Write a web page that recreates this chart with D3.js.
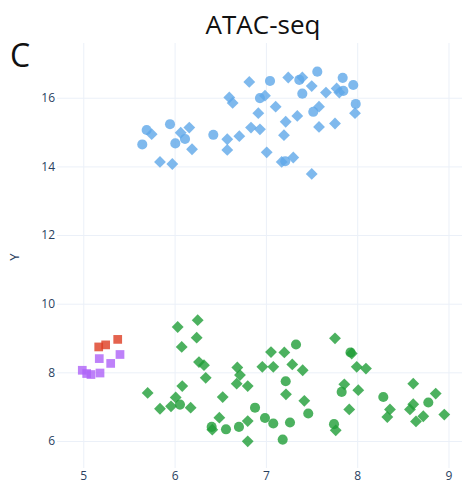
<!DOCTYPE html>
<html>
<head>
<meta charset="utf-8">
<script src="https://cdn.jsdelivr.net/npm/d3@7"></script>
<style>
  html, body { margin: 0; padding: 0; background: #fff; }
  svg { display: block; }
</style>
</head>
<body>
<svg id="chart" width="465" height="488"></svg>
<script>
// Tick values for both axes
const xTicks = [5, 6, 7, 8, 9];
const yTicks = [6, 8, 10, 12, 14, 16];

// Cluster 1 (blue): circles and diamonds
const blueCircles = [
  [5.646, 14.64], [5.694, 15.06], [5.950, 15.23], [6.008, 14.67], [6.114, 14.80],
  [6.424, 14.92], [7.045, 16.49], [6.935, 15.99], [7.366, 16.52], [7.563, 16.76],
  [7.399, 16.12], [7.841, 16.58], [7.957, 16.37], [7.848, 16.20], [7.984, 15.82],
  [7.519, 15.59], [7.212, 14.15]
];
const blueDiamonds = [
  [5.749, 14.94], [5.840, 14.13], [5.975, 14.07], [6.067, 14.98], [6.161, 15.13],
  [6.191, 14.50], [6.599, 16.01], [6.636, 15.85], [6.818, 16.46], [6.577, 14.79],
  [6.577, 14.48], [6.709, 14.88], [6.837, 15.13], [6.935, 15.08], [6.917, 15.55],
  [6.990, 16.06], [7.107, 15.74], [7.217, 15.30], [7.198, 14.91], [7.009, 14.41],
  [7.300, 14.26], [7.173, 14.13], [7.245, 16.59], [7.399, 16.59], [7.502, 16.34],
  [7.344, 15.47], [7.582, 15.74], [7.582, 15.15], [7.658, 16.15], [7.757, 15.25],
  [7.775, 16.27], [7.804, 16.15], [7.502, 13.78], [7.976, 15.55]
];

// Cluster 2 (green): circles and diamonds
const greenCircles = [
  [6.059, 7.06], [6.406, 6.41], [6.563, 6.34], [6.705, 6.41], [6.881, 6.97],
  [6.990, 6.67], [7.081, 6.51], [7.330, 8.81], [7.217, 7.74], [7.464, 6.80],
  [7.264, 6.54], [7.184, 6.04], [7.830, 7.43], [7.746, 6.49], [8.286, 7.28],
  [8.779, 7.12], [7.927, 8.58]
];
const greenDiamonds = [
  [6.034, 9.32], [6.253, 9.52], [6.242, 9.01], [6.078, 8.74], [6.267, 8.30],
  [6.322, 8.21], [6.341, 7.84], [6.084, 7.60], [5.705, 7.40], [6.012, 7.27],
  [5.840, 6.94], [5.961, 7.01], [6.176, 6.97], [6.527, 7.28], [6.490, 6.68],
  [6.413, 6.33], [7.056, 8.59], [7.202, 8.58], [6.687, 8.14], [6.716, 7.92],
  [6.680, 7.67], [6.801, 7.60], [6.961, 8.16], [7.081, 8.16], [7.289, 8.23],
  [7.403, 8.06], [7.220, 7.36], [7.421, 7.17], [6.801, 6.58], [6.801, 5.99],
  [7.757, 8.99], [7.940, 8.55], [7.995, 8.16], [8.096, 8.11], [7.859, 7.65],
  [8.012, 7.48], [7.913, 6.92], [7.765, 6.31], [8.359, 6.92], [8.330, 6.70],
  [8.614, 7.67], [8.614, 7.07], [8.578, 6.92], [8.860, 7.38], [8.724, 6.72],
  [8.644, 6.57], [8.954, 6.77]
];

// Small groups (squares)
const redSquares = [[5.169, 8.74], [5.245, 8.80], [5.377, 8.96]];
const purpleSquares = [
  [4.989, 8.06], [5.037, 7.965], [5.084, 7.936], [5.175, 8.40],
  [5.183, 7.98], [5.300, 8.26], [5.402, 8.52]
];

const W = 465, H = 488;
const plot = { left: 57, right: 462, top: 43, bottom: 468 };

const svg = d3.select("#chart");

const x = d3.scaleLinear().domain([4.712, 9.148]).range([plot.left, plot.right]);
const y = d3.scaleLinear().domain([5.213, 17.595]).range([plot.bottom, plot.top]);

const fontFam = '"Open Sans", verdana, arial, sans-serif';
const gridColor = "#ebf0f8";
const tickColor = "#2a3f5f";

// Grid lines
svg.append("g")
  .attr("transform", `translate(0,${plot.bottom})`)
  .call(d3.axisBottom(x).tickValues(xTicks).tickSize(-(plot.bottom - plot.top)).tickFormat(""))
  .call(g => g.select(".domain").remove())
  .call(g => g.selectAll("line").attr("stroke", gridColor).attr("stroke-width", 1));

svg.append("g")
  .attr("transform", `translate(${plot.left},0)`)
  .call(d3.axisLeft(y).tickValues(yTicks).tickSize(-(plot.right - plot.left)).tickFormat(""))
  .call(g => g.select(".domain").remove())
  .call(g => g.selectAll("line").attr("stroke", gridColor).attr("stroke-width", 1));

// Tick labels
svg.append("g")
  .attr("transform", `translate(0,${plot.bottom})`)
  .call(d3.axisBottom(x).tickValues(xTicks).tickSize(0).tickPadding(3).tickFormat(d3.format("d")))
  .call(g => g.select(".domain").remove())
  .call(g => g.selectAll("text").attr("fill", tickColor).attr("font-size", 12).attr("font-family", fontFam));

svg.append("g")
  .attr("transform", `translate(${plot.left},0)`)
  .call(d3.axisLeft(y).tickValues(yTicks).tickSize(0).tickPadding(2).tickFormat(d3.format("d")))
  .call(g => g.select(".domain").remove())
  .call(g => g.selectAll("text").attr("fill", tickColor).attr("font-size", 12).attr("font-family", fontFam));

// Axis title
svg.append("text")
  .attr("transform", `translate(19,257) rotate(-90)`)
  .attr("text-anchor", "middle")
  .attr("fill", tickColor)
  .attr("font-family", fontFam)
  .attr("font-size", 13)
  .text("Y");

// Chart title and panel letter
svg.append("text")
  .attr("x", 263).attr("y", 34)
  .attr("text-anchor", "middle")
  .attr("fill", "#111")
  .attr("font-family", '"Open Sans", sans-serif')
  .attr("font-size", 26)
  .text("ATAC-seq");

svg.append("text")
  .attr("x", 10).attr("y", 67)
  .attr("fill", "#111")
  .attr("font-family", '"Open Sans", sans-serif')
  .attr("font-size", 32)
  .text("C");

// Markers
const marks = svg.append("g");
const circleSym = d3.symbol().type(d3.symbolCircle).size(80);
const squareSym = d3.symbol().type(d3.symbolSquare).size(76);
const diamondSym = d3.symbol().type(d3.symbolSquare).size(70);

function draw(data, sym, color, rotate) {
  marks.append("g").selectAll("path")
    .data(data)
    .join("path")
    .attr("d", sym)
    .attr("transform", d => `translate(${x(d[0])},${y(d[1])})${rotate ? " rotate(45)" : ""}`)
    .attr("fill", color)
    .attr("fill-opacity", 0.8);
}

const blue = "#5fa8e8";
const green = "#1f9e37";
const red = "#dd3c22";
const purple = "#ae62f8";

draw(blueCircles, circleSym, blue, false);
draw(blueDiamonds, diamondSym, blue, true);
draw(greenCircles, circleSym, green, false);
draw(greenDiamonds, diamondSym, green, true);
draw(redSquares, squareSym, red, false);
draw(purpleSquares, squareSym, purple, false);
</script>
</body>
</html>
